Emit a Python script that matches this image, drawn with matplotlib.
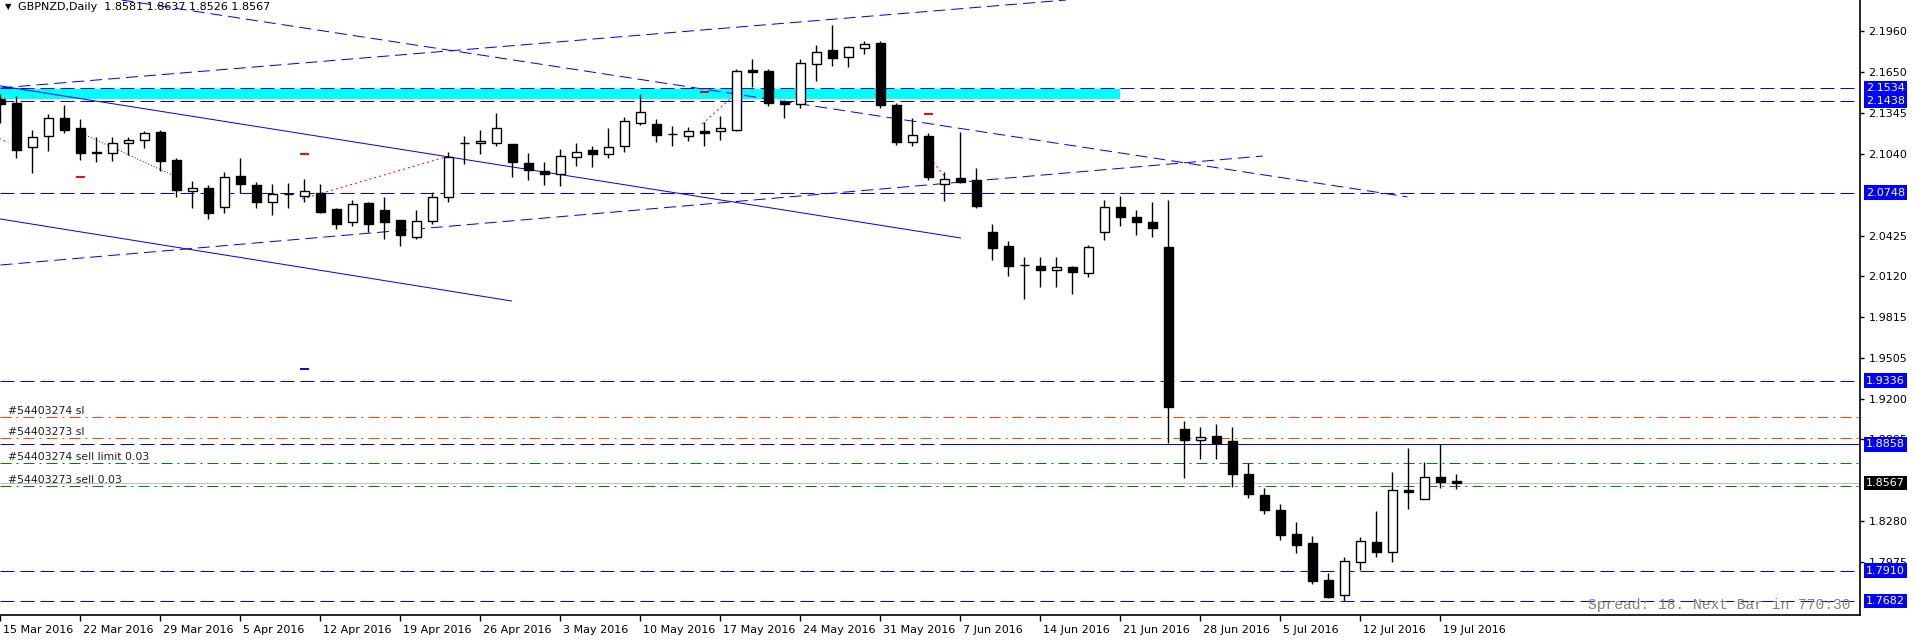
import pandas as pd
import matplotlib
matplotlib.use("Agg")
import matplotlib.pyplot as plt
import matplotlib.transforms as mtransforms

# GBPNZD daily bars, 15 Mar 2016 .. 20 Jul 2016
opens = [2.1450, 2.1418, 2.1090, 2.1175, 2.1305, 2.1230, 2.1050, 2.1043, 2.1118, 2.1140,
         2.1200, 2.0990, 2.0762, 2.0780, 2.0637, 2.0872, 2.0802, 2.0675, 2.0737, 2.0720,
         2.0747, 2.0622, 2.0525, 2.0670, 2.0615, 2.0540, 2.0417, 2.0532, 2.0717, 2.1118,
         2.1118, 2.1122, 2.1112, 2.0967, 2.0910, 2.0889, 2.1013, 2.1065, 2.1035, 2.1100,
         2.1272, 2.1260, 2.1185, 2.1170, 2.1210, 2.1208, 2.1220, 2.1668, 2.1660, 2.1427,
         2.1410, 2.1710, 2.1815, 2.1763, 2.1830, 2.1870, 2.1403, 2.1130, 2.1170, 2.0810,
         2.0855, 2.0842, 2.0452, 2.0347, 2.0202, 2.0194, 2.0164, 2.0187, 2.0142, 2.0450,
         2.0640, 2.0564, 2.0527, 2.0339, 1.8973, 1.8889, 1.8921, 1.8883, 1.8636, 1.8478,
         1.8365, 1.8185, 1.8118, 1.7840, 1.7725, 1.7973, 1.8125, 1.8048, 1.8516, 1.8450,
         1.8613, 1.8581]
highs = [2.1485, 2.1475, 2.1217, 2.1335, 2.1403, 2.1300, 2.1163, 2.1163, 2.1167, 2.1210,
         2.1217, 2.1005, 2.0835, 2.0805, 2.0900, 2.1005, 2.0827, 2.0810, 2.0817, 2.0847,
         2.0812, 2.0630, 2.0690, 2.0677, 2.0712, 2.0540, 2.0615, 2.0750, 2.1055, 2.1172,
         2.1217, 2.1345, 2.1112, 2.1043, 2.0975, 2.1075, 2.1118, 2.1097, 2.1232, 2.1315,
         2.1488, 2.1300, 2.1247, 2.1240, 2.1280, 2.1322, 2.1675, 2.1750, 2.1675, 2.1442,
         2.1748, 2.1855, 2.2005, 2.1845, 2.1883, 2.1883, 2.1418, 2.1307, 2.1195, 2.0900,
         2.1200, 2.0930, 2.0512, 2.0384, 2.0264, 2.0264, 2.0264, 2.0197, 2.0354, 2.0692,
         2.0722, 2.0617, 2.0677, 2.0692, 1.9033, 1.8988, 1.9011, 1.8988, 1.8716, 1.8531,
         1.8411, 1.8275, 1.8170, 1.7895, 1.8011, 1.8165, 1.8360, 1.8651, 1.8833, 1.8726,
         1.8861, 1.8637]
lows = [2.1272, 2.1010, 2.0897, 2.1062, 2.1193, 2.0995, 2.0979, 2.0987, 2.1028, 2.1085,
        2.0912, 2.0712, 2.0634, 2.0552, 2.0597, 2.0747, 2.0634, 2.0582, 2.0634, 2.0679,
        2.0597, 2.0477, 2.0499, 2.0452, 2.0402, 2.0349, 2.0402, 2.0514, 2.0675, 2.0960,
        2.1040, 2.1100, 2.0867, 2.0842, 2.0807, 2.0799, 2.0949, 2.0942, 2.1010, 2.1055,
        2.1257, 2.1130, 2.1100, 2.1137, 2.1100, 2.1145, 2.1212, 2.1538, 2.1400, 2.1310,
        2.1385, 2.1587, 2.1700, 2.1692, 2.1785, 2.1385, 2.1107, 2.1100, 2.0844, 2.0687,
        2.0817, 2.0634, 2.0242, 2.0124, 1.9951, 2.0041, 2.0041, 1.9989, 2.0116, 2.0394,
        2.0499, 2.0432, 2.0417, 1.8871, 1.8608, 1.8751, 1.8751, 1.8540, 1.8458, 1.8338,
        1.8143, 1.8045, 1.7810, 1.7707, 1.7685, 1.7915, 1.8011, 1.7975, 1.8375, 1.8446,
        1.8533, 1.8526]
closes = [2.1410, 2.1070, 2.1163, 2.1305, 2.1220, 2.1047, 2.1043, 2.1122, 2.1140, 2.1193,
          2.0987, 2.0767, 2.0780, 2.0597, 2.0862, 2.0810, 2.0679, 2.0735, 2.0737, 2.0757,
          2.0604, 2.0514, 2.0660, 2.0510, 2.0529, 2.0427, 2.0532, 2.0712, 2.1015, 2.1118,
          2.1133, 2.1230, 2.0979, 2.0919, 2.0889, 2.1020, 2.1055, 2.1035, 2.1088, 2.1283,
          2.1350, 2.1182, 2.1185, 2.1208, 2.1197, 2.1230, 2.1660, 2.1655, 2.1422, 2.1410,
          2.1720, 2.1800, 2.1760, 2.1838, 2.1860, 2.1407, 2.1130, 2.1178, 2.0867, 2.0847,
          2.0827, 2.0649, 2.0334, 2.0199, 2.0202, 2.0169, 2.0187, 2.0154, 2.0337, 2.0637,
          2.0567, 2.0529, 2.0484, 1.9141, 1.8893, 1.8911, 1.8871, 1.8638, 1.8488, 1.8368,
          1.8180, 1.8105, 1.7835, 1.7715, 1.7980, 1.8131, 1.8053, 1.8516, 1.8503, 1.8611,
          1.8573, 1.8567]

date_labels = ["15 Mar 2016", "22 Mar 2016", "29 Mar 2016", "5 Apr 2016", "12 Apr 2016",
               "19 Apr 2016", "26 Apr 2016", "3 May 2016", "10 May 2016", "17 May 2016",
               "24 May 2016", "31 May 2016", "7 Jun 2016", "14 Jun 2016", "21 Jun 2016",
               "28 Jun 2016", "5 Jul 2016", "12 Jul 2016", "19 Jul 2016"]
price_ticks = [2.1960, 2.1650, 2.1345, 2.1040, 2.0425, 2.0120, 1.9815,
               1.9505, 1.9200, 1.8895, 1.8280, 1.7975]

# horizontal levels (blue) and order lines
levels = [2.1534, 2.1438, 2.0748, 1.9336, 1.8858, 1.7910, 1.7682]
bid = 1.8567
order_prices = [1.9061, 1.8904, 1.8716, 1.8543]
order_texts = ["#54403274 sl", "#54403273 sl", "#54403274 sell limit 0.03", "#54403273 sell 0.03"]
order_colors = ["#FF4500", "#FF4500", "#008000", "#008000"]

# trend lines as (bar, price) pairs
solid_lines = [((0, 2.1548), (60, 2.0407)), ((0, 2.0549), (31.94, 1.9934))]
dashed_lines = [((0, 2.0204), (78.9, 2.1022)), ((7.56, 2.2193), (87.94, 2.0715)),
                ((0, 2.1533), (66.6, 2.2193))]
dotted_blue = [((5.31, 2.1180), (10.73, 2.0880))]
dotted_red = [((-0.5, 2.1180), (0.5, 2.1120)), ((18.86, 2.0700), (28.02, 2.1022)),
              ((43.86, 2.1262), (45.6, 2.1450)), ((58.3, 2.0975), (59.1, 2.0857))]
red_marks = [(5, 2.0862), (19.03, 2.1035), (44.03, 2.1503), (58.03, 2.1335)]
blue_marks = [(19.03, 1.9421)]
band = (0, 70, 2.1450, 2.1523)

dates = pd.bdate_range("2016-03-15", periods=len(opens))
day_names = [f"{d.day} {d.strftime('%b %Y')}" for d in dates]
tick_pos = [day_names.index(s) for s in date_labels]

W, H = 1916, 644
fig = plt.figure(figsize=(W / 100, H / 100), dpi=100)
ax = fig.add_axes([0, 29 / H, 1860 / W, 615 / H])
ax.set_xlim(-0.03, 116.22)
ax.set_ylim(1.7577, 2.2193)
px = 0.72  # one pixel in points

# cyan zone
ax.fill_between([band[0], band[1]], band[2], band[3], color="#00FFFF", lw=0, zorder=1)

for lv in levels:
    ax.axhline(lv, color="#0000FF", lw=px, dashes=(14, 6), zorder=2)
ax.hlines(1.8858, 59, 117, color="#0000FF", lw=px, zorder=2)
ax.axhline(bid, color="#C0C0C0", lw=px, zorder=2)

for p, t, c in zip(order_prices, order_texts, order_colors):
    ax.axhline(p, color=c, lw=px, dashes=(11, 5, 2, 5), zorder=2)
    ax.text(0.5, p + 0.0012, t, fontsize=7.8, color="#202020", va="bottom", ha="left", zorder=5)

for (a, b) in solid_lines:
    ax.plot([a[0], b[0]], [a[1], b[1]], color="#0000FF", lw=px, zorder=2)
for (a, b) in dashed_lines:
    ax.plot([a[0], b[0]], [a[1], b[1]], color="#0000FF", lw=px, dashes=(12, 6), zorder=2)
for (a, b) in dotted_blue:
    ax.plot([a[0], b[0]], [a[1], b[1]], color="#0000FF", lw=px, dashes=(1, 2), zorder=2)
for (a, b) in dotted_red:
    ax.plot([a[0], b[0]], [a[1], b[1]], color="#FF0000", lw=px, dashes=(2, 3), zorder=2)
for (x, y) in red_marks:
    ax.plot([x - 0.22, x + 0.22], [y, y], color="#FF0000", lw=1.4, zorder=3)
for (x, y) in blue_marks:
    ax.plot([x - 0.22, x + 0.22], [y, y], color="#0000FF", lw=1.4, zorder=3)

# candles
idx = list(range(len(opens)))
ax.vlines(idx, lows, highs, color="black", lw=1.0, zorder=4)
body_low = [min(o, c) for o, c in zip(opens, closes)]
body_h = [max(abs(c - o), 0.00002) for o, c in zip(opens, closes)]
fills = ["white" if c > o else "black" for o, c in zip(opens, closes)]
ax.bar(idx, body_h, bottom=body_low, width=0.6, color=fills, edgecolor="black",
       linewidth=1.0, zorder=5)

# axes look
for s in ["left", "top"]:
    ax.spines[s].set_visible(False)
ax.spines["right"].set_linewidth(1.2)
ax.spines["bottom"].set_linewidth(1.2)
ax.yaxis.tick_right()
ax.set_yticks(price_ticks)
ax.set_yticklabels([f"{v:.4f}" for v in price_ticks])
ax.tick_params(axis="y", length=3, width=1, pad=3, labelsize=8)
ax.set_xticks(tick_pos)
ax.set_xticklabels(date_labels)
ax.tick_params(axis="x", length=4, width=1, pad=3, labelsize=8)
shift = mtransforms.ScaledTranslation(3 / 100, 0, fig.dpi_scale_trans)
for lbl in ax.get_xticklabels():
    lbl.set_horizontalalignment("left")
    lbl.set_transform(lbl.get_transform() + shift)

# right-hand price boxes
tr = mtransforms.blended_transform_factory(fig.transFigure, ax.transData)
for lv in levels:
    ax.text(1866 / W, lv, f"{lv:.4f}", transform=tr, fontsize=8, color="white",
            va="center", ha="left", clip_on=False, zorder=10,
            bbox=dict(boxstyle="square,pad=0.2", fc="#0000FF", ec="none"))
ax.text(1866 / W, bid, f"{bid:.4f}", transform=tr, fontsize=8, color="white",
        va="center", ha="left", clip_on=False, zorder=10,
        bbox=dict(boxstyle="square,pad=0.2", fc="black", ec="none"))

fig.text(8 / W, 1 - 7 / H, "\u25bc", fontsize=6, va="center", ha="center")
fig.text(18 / W, 1 - 7 / H, "GBPNZD,Daily  1.8581 1.8637 1.8526 1.8567",
         fontsize=8, va="center", ha="left")
fig.text(1850 / W, 1 - 605 / H, "Spread: 18. Next Bar in 770:30", family="Liberation Mono",
         fontsize=10.5, color="#808080", va="center", ha="right")

fig.savefig("out.png", dpi=100)
